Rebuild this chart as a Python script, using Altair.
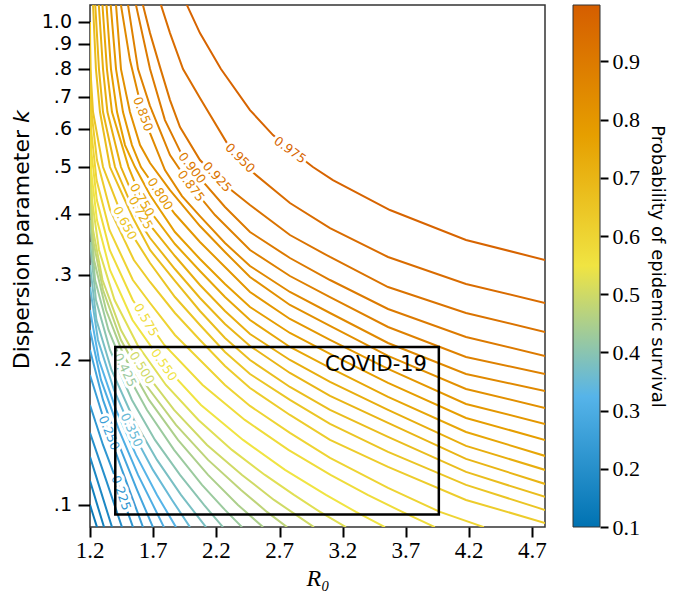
import altair as alt
import pandas as pd

# Contour lines traced along each level: R0 positions and log10(k) positions
CONTOURS = [
    (0.125, [1.200, 1.255], [-1.000, -1.046]),
    (0.150, [1.200, 1.255, 1.311], [-0.9503, -0.9979, -1.046]),
    (0.175, [1.200, 1.287, 1.374], [-0.9006, -0.9731, -1.046]),
    (0.200, [1.200, 1.327, 1.453], [-0.8509, -0.9482, -1.046]),
    (0.225, [1.200, 1.303, 1.422, 1.540], [-0.7930, -0.8758, -0.9586, -1.046]),
    (0.250, [1.200, 1.311, 1.453, 1.619], [-0.7308, -0.8240, -0.9275, -1.046]),
    (0.275, [1.200, 1.303, 1.429, 1.572, 1.698],
            [-0.6791, -0.7826, -0.8758, -0.9689, -1.046]),
    (0.300, [1.200, 1.287, 1.429, 1.580, 1.698, 1.785],
            [-0.6377, -0.7412, -0.8447, -0.9379, -1.000, -1.046]),
    (0.325, [1.200, 1.271, 1.406, 1.564, 1.730, 1.880],
            [-0.5963, -0.6998, -0.8033, -0.8965, -0.9793, -1.046]),
    (0.350, [1.200, 1.263, 1.390, 1.528, 1.698, 1.849, 1.991],
            [-0.5487, -0.6584, -0.7619, -0.8447, -0.9275, -0.9897, -1.046]),
    (0.375, [1.200, 1.251, 1.370, 1.548, 1.730, 1.920, 2.118],
            [-0.5031, -0.6170, -0.7205, -0.8240, -0.9068, -0.9793, -1.046]),
    (0.400, [1.200, 1.247, 1.358, 1.532, 1.714, 1.912, 2.102, 2.252],
            [-0.4555, -0.5756, -0.6791, -0.7826, -0.8654, -0.9379, -1.000, -1.046]),
    (0.425, [1.200, 1.240, 1.346, 1.477, 1.651, 1.865, 2.086, 2.268, 2.403],
            [-0.4099, -0.5342, -0.6377, -0.7205, -0.8033, -0.8861, -0.9586, -1.0104, -1.046]),
    (0.450, [1.200, 1.232, 1.327, 1.465, 1.667, 1.896, 2.134, 2.371, 2.569],
            [-0.3685, -0.4928, -0.5963, -0.6894, -0.7826, -0.8654, -0.9379, -1.000, -1.046]),
    (0.475, [1.200, 1.224, 1.303, 1.445, 1.643, 1.880, 2.134, 2.395, 2.600, 2.759],
            [-0.3333, -0.4513, -0.5549, -0.6584, -0.7516, -0.8344, -0.9068, -0.9689, -1.0145, -1.046]),
    (0.500, [1.200, 1.224, 1.299, 1.445, 1.611, 1.865, 2.126, 2.403, 2.656, 2.830, 2.972],
            [-0.3002, -0.4306, -0.5342, -0.6377, -0.7164, -0.8033, -0.8758, -0.9379, -0.9897,
             -1.0207, -1.046]),
    (0.525, [1.200, 1.216, 1.271, 1.394, 1.576, 1.801, 2.058, 2.323, 2.584, 2.814, 3.020, 3.225],
            [-0.2443, -0.3685, -0.4720, -0.5756, -0.6687, -0.7516, -0.8240, -0.8861, -0.9379,
             -0.9793, -1.0145, -1.046]),
    (0.550, [1.200, 1.208, 1.255, 1.358, 1.536, 1.785, 2.078, 2.411, 2.743, 3.067, 3.304, 3.534],
            [-0.1863, -0.3064, -0.4099, -0.5135, -0.6170, -0.7101, -0.7930, -0.8654, -0.9275,
             -0.9793, -1.0145, -1.046]),
    (0.575, [1.200, 1.209, 1.254, 1.356, 1.538, 1.788, 2.091, 2.425, 2.770, 3.103, 3.397, 3.671, 3.929],
            [-0.1408, -0.2650, -0.3685, -0.4720, -0.5756, -0.6687, -0.7516, -0.8240, -0.8861,
             -0.9379, -0.9793, -1.0145, -1.046]),
    (0.600, [1.200, 1.209, 1.252, 1.354, 1.539, 1.675, 1.872, 2.070, 2.268, 2.466, 2.782, 3.099,
             3.558, 3.969, 4.317],
            [-0.0973, -0.2236, -0.3271, -0.4306, -0.5342, -0.5818, -0.6480, -0.6998, -0.7516,
             -0.7950, -0.8509, -0.9027, -0.9648, -1.0145, -1.046]),
    (0.625, [1.200, 1.210, 1.255, 1.359, 1.547, 1.675, 1.872, 2.070, 2.268, 2.466, 2.782, 3.099,
             3.558, 4.175, 4.800, 5.393],
            [-0.0476, -0.1822, -0.2857, -0.3892, -0.4928, -0.5383, -0.6025, -0.6584, -0.7122,
             -0.7578, -0.8137, -0.8654, -0.9213, -0.9897, -1.0373, -1.0663]),
    (0.650, [1.200, 1.203, 1.224, 1.303, 1.475, 1.675, 1.872, 2.070, 2.268, 2.466, 2.782, 3.099,
             3.558, 4.175, 4.800, 5.393],
            [0.0, -0.0973, -0.1863, -0.3002, -0.4162, -0.4990, -0.5694, -0.6273, -0.6832,
             -0.7288, -0.7826, -0.8323, -0.8903, -0.9586, -1.0104, -1.0393]),
    (0.675, [1.208, 1.224, 1.247, 1.279, 1.358, 1.540, 1.675, 1.872, 2.070, 2.268, 2.466, 2.782,
             3.099, 3.558, 4.175, 4.800, 5.393],
            [0.0787, 0.0352, -0.0973, -0.1863, -0.3002, -0.4058, -0.4720, -0.5362, -0.5983,
             -0.6542, -0.6998, -0.7557, -0.8033, -0.8592, -0.9317, -0.9834, -1.0124]),
    (0.700, [1.232, 1.271, 1.303, 1.398, 1.572, 1.675, 1.872, 2.070, 2.268, 2.466, 2.782, 3.099,
             3.558, 4.175, 4.800, 5.393],
            [0.0787, -0.0973, -0.1863, -0.3002, -0.4058, -0.4472, -0.5114, -0.5714, -0.6253,
             -0.6708, -0.7267, -0.7743, -0.8302, -0.9047, -0.9565, -0.9855]),
    (0.725, [1.259, 1.303, 1.338, 1.445, 1.600, 1.675, 1.872, 2.070, 2.268, 2.466, 2.782, 3.099,
             3.558, 4.175, 4.800, 5.393],
            [0.0787, -0.0973, -0.1863, -0.3002, -0.3954, -0.4203, -0.4845, -0.5445, -0.5983,
             -0.6460, -0.6998, -0.7453, -0.8033, -0.8778, -0.9275, -0.9565]),
    (0.750, [1.287, 1.334, 1.374, 1.505, 1.611, 1.675, 1.872, 2.070, 2.268, 2.466, 2.782, 3.099,
             3.558, 4.175, 4.800, 5.393],
            [0.0787, -0.0973, -0.1863, -0.3002, -0.3685, -0.3913, -0.4596, -0.5155, -0.5694,
             -0.6170, -0.6729, -0.7164, -0.7764, -0.8489, -0.8985, -0.9275]),
    (0.775, [1.319, 1.366, 1.414, 1.477, 1.556, 1.675, 1.872, 2.070, 2.268, 2.466, 2.782, 3.099,
             3.558, 4.175, 4.800, 5.393],
            [0.0787, -0.0973, -0.1863, -0.2547, -0.3002, -0.3582, -0.4348, -0.4907, -0.5424,
             -0.5901, -0.6439, -0.6874, -0.7474, -0.8199, -0.8654, -0.8944]),
    (0.800, [1.350, 1.406, 1.461, 1.532, 1.603, 1.675, 1.754, 1.872, 2.070, 2.268, 2.466, 2.782,
             3.099, 3.558, 4.175, 4.800, 5.393],
            [0.0787, -0.0973, -0.1863, -0.2547, -0.3002, -0.3271, -0.3561, -0.3975, -0.4555,
             -0.5072, -0.5590, -0.6149, -0.6584, -0.7184, -0.7909, -0.8323, -0.8592]),
    (0.825, [1.386, 1.406, 1.445, 1.516, 1.596, 1.675, 1.833, 2.070, 2.268, 2.466, 2.782, 3.099,
             3.558, 4.175, 4.800, 5.393],
            [0.0787, 0.0352, -0.0973, -0.1863, -0.2547, -0.2919, -0.3478, -0.4224, -0.4762,
             -0.5280, -0.5859, -0.6294, -0.6915, -0.7598, -0.7992, -0.8261]),
    (0.850, [1.422, 1.445, 1.516, 1.619, 1.675, 1.793, 1.928, 2.070, 2.268, 2.466, 2.782, 3.099,
             3.558, 4.175, 4.800, 5.393],
            [0.0787, 0.0352, -0.0787, -0.1905, -0.2298, -0.3064, -0.3603, -0.4017, -0.4576,
             -0.5052, -0.5590, -0.6025, -0.6646, -0.7288, -0.7640, -0.7888]),
    (0.875, [1.477, 1.501, 1.580, 1.675, 1.833, 1.999, 2.189, 2.466, 2.782, 3.099, 3.558, 4.175,
             4.800, 5.393],
            [0.0787, 0.0352, -0.0973, -0.1739, -0.2754, -0.3395, -0.3996, -0.4720, -0.5259,
             -0.5694, -0.6315, -0.6936, -0.7288, -0.7536]),
    (0.900, [1.532, 1.564, 1.675, 1.793, 1.928, 2.070, 2.268, 2.466, 2.782, 3.099, 3.558, 4.175,
             4.800, 5.393],
            [0.0787, 0.0352, -0.0973, -0.2029, -0.2754, -0.3230, -0.3830, -0.4348, -0.4886,
             -0.5342, -0.5942, -0.6522, -0.6915, -0.7164]),
    (0.925, [1.588, 1.619, 1.675, 1.754, 1.833, 1.912, 2.070, 2.268, 2.466, 2.782, 3.099, 3.558,
             4.175, 4.800, 5.393],
            [0.0787, 0.0352, -0.0228, -0.0932, -0.1615, -0.2174, -0.2857, -0.3375, -0.3789,
             -0.4410, -0.4865, -0.5487, -0.6025, -0.6418, -0.6687]),
    (0.950, [1.706, 1.762, 1.833, 1.936, 2.070, 2.284, 2.466, 2.782, 3.099, 3.558, 4.175, 4.800,
             5.393],
            [0.0787, 0.0352, -0.0228, -0.0973, -0.1574, -0.2505, -0.3064, -0.3747, -0.4265,
             -0.4865, -0.5424, -0.5818, -0.6087]),
    (0.975, [1.880, 1.967, 2.070, 2.236, 2.466, 2.648, 2.790, 2.964, 3.122, 3.573, 4.175, 4.800,
             5.393],
            [0.0787, 0.0352, -0.0228, -0.0973, -0.1822, -0.2340, -0.2650, -0.3002, -0.3271,
             -0.3892, -0.4513, -0.4928, -0.5238]),
]

# Inline contour labels (position on the line, text angle)
LABEL_LEVEL = [0.975, 0.950, 0.925, 0.900, 0.875, 0.850, 0.800, 0.750, 0.725,
               0.650, 0.575, 0.550, 0.500, 0.425, 0.350, 0.250, 0.225]
LABEL_R0 = [2.782, 2.387, 2.205, 2.007, 1.999, 1.619, 1.754, 1.611, 1.600,
            1.475, 1.643, 1.785, 1.611, 1.477, 1.528, 1.350, 1.445]
LABEL_LOG10K = [-0.2650, -0.2816, -0.3209, -0.3023, -0.3395, -0.1905, -0.3561, -0.3685,
                -0.3954, -0.4162, -0.6170, -0.7101, -0.7164, -0.7205, -0.8447, -0.8509, -0.9752]
LABEL_ANGLE = [36, 45, 48, 52, 53, 70, 57, 60, 60, 62, 60, 55, 58, 64, 65, 68, 71]

# COVID-19 parameter range
COVID_R0 = [1.4, 3.96]
COVID_K = [0.0955, 0.2124]

# Axis ticks and their labels
X_TICKS = [1.2, 1.7, 2.2, 2.7, 3.2, 3.7, 4.2, 4.7]
X_TICK_LABELS = ["1.2", "1.7", "2.2", "2.7", "3.2", "3.7", "4.2", "4.7"]
Y_TICKS = [0.1, 0.2, 0.3, 0.4, 0.5, 0.6, 0.7, 0.8, 0.9, 1.0]
Y_TICK_LABELS = [".1", ".2", ".3", ".4", ".5", ".6", ".7", ".8", ".9", "1.0"]
CBAR_TICKS = [0.1, 0.2, 0.3, 0.4, 0.5, 0.6, 0.7, 0.8, 0.9]
CBAR_RANGE = [0.1, 0.997]

# Colour map: Okabe-Ito blue -> sky blue -> yellow -> orange -> vermillion
CMAP_VALUES = [0.1, 0.3243, 0.5485, 0.7728, 0.997]
CMAP_COLORS = ["#0072B2", "#56B4E9", "#F0E442", "#E69F00", "#D55E00"]

rows = []
for lev, r0s, lks in CONTOURS:
    for i, (r0, lk) in enumerate(zip(r0s, lks)):
        rows.append({"level": lev, "R0": r0, "k": 10 ** lk, "order": i})
lines_df = pd.DataFrame(rows)

labels_df = pd.DataFrame({"level": LABEL_LEVEL, "R0": LABEL_R0,
                          "k": [10 ** v for v in LABEL_LOG10K], "angle": LABEL_ANGLE})
box_df = pd.DataFrame({"R0": [COVID_R0[0]], "R0b": [COVID_R0[1]],
                       "k": [COVID_K[0]], "kb": [COVID_K[1]]})
covid_df = pd.DataFrame({"R0": [3.866], "k": [0.195], "txt": ["COVID-19"]})
cbar_df = pd.DataFrame({"lo": [CBAR_RANGE[0]], "hi": [CBAR_RANGE[1]]})
xlab_df = pd.DataFrame({"R0": X_TICKS, "txt": X_TICK_LABELS})
ylab_df = pd.DataFrame({"k": Y_TICKS, "txt": Y_TICK_LABELS})

W, H = 455, 522
SANS = "DejaVu Sans"
SERIF = "Liberation Serif"

xscale = alt.Scale(domain=[1.2, 4.8], nice=False, zero=False)
yscale = alt.Scale(type="log", domain=[0.09, 1.085], nice=False)
cscale = alt.Scale(domain=CMAP_VALUES, range=CMAP_COLORS, interpolate="rgb")

x_axis = alt.Axis(values=X_TICKS, labels=False, title="R₀", titlePadding=28)
y_axis = alt.Axis(values=Y_TICKS, labels=False, title="")

X = alt.X("R0:Q", scale=xscale, axis=x_axis)
Y = alt.Y("k:Q", scale=yscale, axis=y_axis)
C = alt.Color("level:Q", scale=cscale, legend=None)

lines = alt.Chart(lines_df).mark_line(strokeWidth=2, clip=True).encode(
    x=X, y=Y, color=C, detail="level:N", order="order:Q",
)

halo = alt.Chart(labels_df).mark_text(
    font=SANS, fontSize=12.5, color="white", stroke="white", strokeWidth=6,
    strokeJoin="round"
).encode(x=X, y=Y, angle=alt.Angle("angle:Q", scale=None),
         text=alt.Text("level:Q", format=".3f"))

label_text = alt.Chart(labels_df).mark_text(font=SANS, fontSize=12.5).encode(
    x=X, y=Y, angle=alt.Angle("angle:Q", scale=None),
    text=alt.Text("level:Q", format=".3f"), color=C,
)

box = alt.Chart(box_df).mark_rect(fillOpacity=0, stroke="black", strokeWidth=2.5).encode(
    x=X, x2="R0b:Q", y=Y, y2="kb:Q",
)

covid = alt.Chart(covid_df).mark_text(
    font=SANS, fontSize=21, align="right", baseline="middle", color="black"
).encode(x=X, y=Y, text="txt:N")

# Tick labels, set as text so they keep their own typefaces
xlabels = alt.Chart(xlab_df).mark_text(
    font=SERIF, fontSize=23, baseline="top", align="center", color="black"
).encode(x=X, y=alt.value(H + 13), text="txt:N")
ylabels = alt.Chart(ylab_df).mark_text(
    font=SANS, fontSize=19, baseline="middle", align="right", color="black"
).encode(x=alt.value(-18), y=Y, text="txt:N")

main = alt.layer(lines, halo, label_text, box, covid, xlabels, ylabels)

# y-axis title with an italic k, set as two rotated pieces
ytitle_main = alt.Chart(pd.DataFrame({"t": ["Dispersion parameter"]})).mark_text(
    font=SANS, fontSize=22, angle=270, align="right", baseline="middle", color="black"
).encode(x=alt.value(-68), y=alt.value(125), text="t:N")
ytitle_k = alt.Chart(pd.DataFrame({"t": ["k"]})).mark_text(
    font=SANS, fontSize=22, angle=270, align="left", baseline="middle", color="black",
    fontStyle="italic"
).encode(x=alt.value(-68), y=alt.value(118), text="t:N")

gradient = alt.LinearGradient(
    gradient="linear", x1=0, x2=0, y1=1, y2=0,
    stops=[alt.GradientStop(offset=(v - CBAR_RANGE[0]) / (CBAR_RANGE[1] - CBAR_RANGE[0]), color=c)
           for v, c in zip(CMAP_VALUES, CMAP_COLORS)],
)

cbar = alt.Chart(cbar_df).mark_rect(fill=gradient, stroke="#333333", strokeWidth=1).encode(
    x=alt.value(483), x2=alt.value(510),
    y=alt.Y("lo:Q", scale=alt.Scale(domain=CBAR_RANGE, nice=False, zero=False),
            axis=alt.Axis(orient="right", offset=55, values=CBAR_TICKS, format=".1f",
                          title="Probability of epidemic survival")),
    y2="hi:Q",
)

chart = alt.layer(main, cbar, ytitle_main, ytitle_k).resolve_scale(y="independent").properties(
    width=W, height=H,
    autosize=alt.AutoSizeParams(type="none"),
    padding={"left": 90, "top": 5, "right": 135, "bottom": 70},
).configure_view(
    stroke="#333333", strokeWidth=1.5
).configure_axis(
    grid=False, domain=False, tickColor="black", tickWidth=2,
    labelColor="black", titleColor="black", titleFontWeight="normal",
).configure_axisBottom(
    tickSize=10, titleFont=SERIF, titleFontSize=24, titleFontStyle="italic",
).configure_axisLeft(
    tickSize=12,
).configure_axisRight(
    labelFont=SERIF, labelFontSize=22, labelPadding=4, tickSize=8,
    titleFont=SANS, titleFontSize=18, titlePadding=8,
)

chart.save("out.html", embed_options={"renderer": "svg", "actions": False})
